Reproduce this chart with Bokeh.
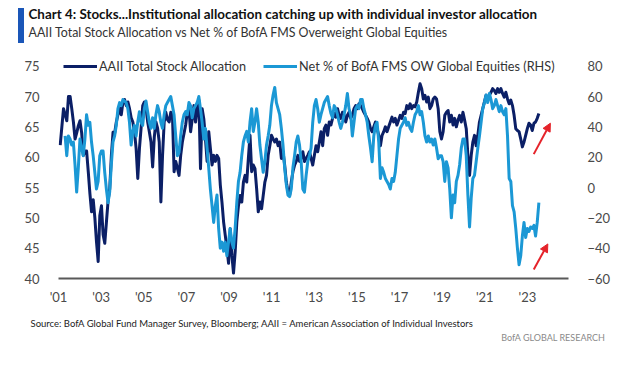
import numpy as np
from bokeh.plotting import figure
from bokeh.layouts import column
from bokeh.models import (Range1d, LinearAxis, FixedTicker, Legend, LegendItem,
                          Arrow, NormalHead, Title, Div)
from bokeh.embed import file_html
from bokeh.resources import INLINE

# ---------------- data ----------------
aaii_start, aaii_end = 2001.08, 2023.54
aaii_2001_2006 = [62, 65, 68, 67, 66, 70, 70, 68, 65.8, 63, 64, 65.2, 66, 64, 60.3, 61, 61, 57.6,
                  54, 51, 53, 50, 46, 42.8, 50.4, 52, 47.2, 45.8, 49.3, 52.8, 54.8, 60.3, 64.1, 64,
                  65.8, 67, 68.1, 67, 69.1, 69.5, 68.5, 69.1, 68, 66.5, 65.8, 64.2, 61.4, 56.5, 61.4,
                  64.8, 68.5, 69.1, 68, 65.8, 64.2, 62.5, 58.4, 63.3, 65.8, 64.8, 62.5, 52.6, 60.3,
                  65.8, 67.4, 66.2, 65.8, 67.4, 67, 57.6, 59.3, 58.2, 57.0, 60.3, 62.5]
aaii_2006_2012 = [63.9, 65.3, 67.4, 68, 64.2, 66.3, 68.5, 65.8, 68, 69.4,
                  58.1, 68, 66.3, 63, 59.3, 64.2, 61.4, 58.7, 60.3, 59.3,
                  60.3, 59.8, 55.4, 52.6, 49.3, 47.1, 45.0, 42.5, 48.2, 43.8,
                  40.9, 44.4, 49.3, 52, 53.7, 52.6, 55.9, 57, 55.9, 59.8,
                  63.6, 57.6, 58.7, 58.1, 54.8, 51.0, 52.6, 51.5, 53.7, 55.9,
                  57, 60.3, 61.9, 63.6, 63, 62.5, 63, 61.9, 62.5, 59.8,
                  60.9, 58.7, 55.9, 54.3, 53.7, 55.9, 57.6, 58.7, 59.3, 60.3,
                  59.3, 59.8, 60.9, 59.3, 59.8, 60.3, 60.9, 59.8]
aaii_2012_2018 = [58.7, 60.3, 61.9, 60.9, 62.5, 64.2, 61.9, 64.7, 65.3, 63.6,
                  65.8, 65.3, 66.4, 67.2, 66.6, 68, 66.9, 66.4, 67.4, 66.9,
                  65.8, 66.9, 67.4, 66.4, 66.9, 68, 68.5, 68, 68.8, 68.5,
                  68, 67.4, 66.9, 66.4, 65.8, 64.7, 64.2, 65, 65.8, 64.7,
                  63.6, 61.9, 63.6, 64.2, 65, 64.2, 65, 65.8, 66.6, 65.8,
                  66.4, 65.3, 66.1, 66.9, 66.4, 67.4, 67.2, 68.5, 68, 68.8,
                  68, 68.5, 68.3, 69.1, 70.7, 72.1, 71.3, 69.6, 70.2, 69.1,
                  69.9, 68, 68.5, 69.6, 69.9, 69.6, 68, 64.2]
aaii_2018_2023 = [63, 64.2, 66.9, 67.4, 67.7, 65.8, 66.9, 65.3, 66.4, 65,
                  66.1, 66.9, 65.8, 67.4, 66.1, 64.7, 60.3, 57.0, 60.3, 62.5,
                  63.6, 61.9, 63.6, 65.8, 66.9, 68, 69.1, 70.2, 69.6, 70.2,
                  70.7, 71.3, 71, 70.5, 71.3, 70.7, 71.3, 70.5, 69.9, 70.7,
                  69.6, 68.8, 69.4, 68.5, 66.9, 64.7, 64.4, 64.2, 63, 61.7,
                  62.5, 63.6, 64.7, 65.6, 65.3, 64.4, 65.6, 65.8, 66.4, 67.2]

fms_start, fms_end = 2001.31, 2023.54
fms_2001_2006 = [34, 21, 34, 32, 28, 30, 15, -3, 13, 32,
                 26, 21, 32, 48, 41, 43, 30, 21, 10, -1,
                 4, 21, 24, 24, 10, -1, -10, -3, 15, 30,
                 34, 41, 52, 56, 54, 58, 57, 56, 52, 43,
                 28, 37, 41, 34, 43, 50, 43, 41, 52, 57,
                 50, 43, 39, 46, 39, 48, 54, 50, 43, 39,
                 48, 54, 56, 58, 60, 54, 48, 34, 21, 23,
                 34, 43]
fms_2006_2012 = [48, 50, 48, 56, 54, 46, 52, 54, 56, 60,
                 52, 43, 32, 39, 26, 13, -1, -12, -23, -12,
                 -5, -27, -40, -36, -42, -36, -45, -36, -27, -36,
                 -40, -27, -10, 4, 10, 21, 30, 34, 37, 30,
                 43, 52, 37, 43, 52, 43, 28, 19, 10, 17,
                 28, 34, 41, 54, 61, 66, 56, 52, 48, 39,
                 28, 13, 2, -5, -6, -1, 13, 21, 30, 34,
                 28, 17, -1, -3, 8, 17, 21, 26]
fms_2012_2018 = [43, 54, 58, 52, 43, 48, 52, 56, 58, 60,
                 54, 49, 46, 54, 52, 48, 43, 39, 43, 48,
                 54, 62, 52, 48, 34, 43, 52, 54, 52, 58,
                 58, 52, 48, 43, 34, 26, 17, 34, 41, 43,
                 30, 6, 13, 10, 6, 4, 2, -1, 6, 4,
                 10, 21, 32, 39, 41, 43, 46, 41, 43, 39,
                 37, 43, 48, 50, 54, 48, 50, 43, 34, 30,
                 34, 30, 32, 28, 32, 26, 19, 21]
fms_2018_2023 = [21, 17, 4, 17, 13, -1, -20, -5, -10, 4,
                 8, 15, 26, 32, 32, 21, -5, -26, -7, 6,
                 8, 17, 26, 34, 43, 52, 56, 61, 56, 62,
                 58, 52, 54, 58, 54, 50, 54, 50, 48, 52,
                 34, 6, 4, -12, -16, -27, -40, -51, -45, -32,
                 -23, -33, -27, -29, -26, -27, -25, -32, -23, -10]

year_ticks = [2001, 2003, 2005, 2007, 2009, 2011, 2013, 2015, 2017, 2019, 2021, 2023]
year_labels = ["'01", "'03", "'05", "'07", "'09", "'11", "'13", "'15", "'17", "'19", "'21", "'23"]
left_ticks = [40, 45, 50, 55, 60, 65, 70, 75]
right_ticks = [-60, -40, -20, 0, 20, 40, 60, 80]

title_text = "Chart 4: Stocks...Institutional allocation catching up with individual investor allocation"
subtitle_text = "AAII Total Stock Allocation vs Net % of BofA FMS Overweight Global Equities"
legend_labels = ["AAII Total Stock Allocation", "Net % of BofA FMS OW Global Equities (RHS)"]
source_text = "Source: BofA Global Fund Manager Survey, Bloomberg; AAII = American Association of Individual Investors"
brand_text = "BofA GLOBAL RESEARCH"

aaii = aaii_2001_2006 + aaii_2006_2012 + aaii_2012_2018 + aaii_2018_2023
fms = fms_2001_2006 + fms_2006_2012 + fms_2012_2018 + fms_2018_2023
aaii_x = np.linspace(aaii_start, aaii_end, len(aaii))
fms_x = np.linspace(fms_start, fms_end, len(fms))

DARK = "#0B1F66"
LIGHT = "#1B98D5"
RED = "#E5232A"
FONT = "Lato"
TICK_COLOR = "#4a4a4a"
W = 613

# ---------------- main chart ----------------
p = figure(width=W, height=310, output_backend="svg", toolbar_location=None,
           x_range=Range1d(2001.0, 2024.93), y_range=Range1d(40, 79.07),
           min_border_left=58, min_border_right=40, min_border_top=41, min_border_bottom=32,
           title=None)
p.outline_line_color = None
p.grid.grid_line_color = None
p.extra_y_ranges = {"right": Range1d(-60, 96.28)}

r_aaii = p.line(aaii_x, aaii, line_color=DARK, line_width=3, line_join="round")
r_fms = p.line(fms_x, fms, line_color=LIGHT, line_width=3, line_join="round", y_range_name="right")

xa = p.xaxis[0]
xa.ticker = FixedTicker(ticks=year_ticks)
xa.major_label_overrides = {t: l for t, l in zip(year_ticks, year_labels)}
xa.axis_line_color = "#595959"
xa.axis_line_width = 2
xa.major_tick_line_color = None
xa.minor_tick_line_color = None
xa.major_label_standoff = 4
xa.major_label_text_font = FONT
xa.major_label_text_font_size = "13px"
xa.major_label_text_color = TICK_COLOR

ya = p.yaxis[0]
ya.ticker = FixedTicker(ticks=left_ticks)
ya.axis_line_color = None
ya.major_tick_line_color = None
ya.minor_tick_line_color = None
ya.major_label_standoff = 13
ya.major_label_text_font = FONT
ya.major_label_text_font_size = "13px"
ya.major_label_text_color = TICK_COLOR

ra = LinearAxis(y_range_name="right", ticker=FixedTicker(ticks=right_ticks))
ra.axis_line_color = None
ra.major_tick_line_color = None
ra.minor_tick_line_color = None
ra.major_label_standoff = 13
ra.major_label_text_font = FONT
ra.major_label_text_font_size = "13px"
ra.major_label_text_color = TICK_COLOR
p.add_layout(ra, "right")

legend = Legend(items=[LegendItem(label=legend_labels[0], renderers=[r_aaii]),
                       LegendItem(label=legend_labels[1], renderers=[r_fms])],
                orientation="horizontal", location=(5, 202), padding=0, margin=0, spacing=17,
                glyph_width=34, glyph_height=20, label_standoff=2,
                label_text_font=FONT, label_text_font_size="12.7px", label_text_color="#333333",
                background_fill_alpha=0, border_line_alpha=0)
p.add_layout(legend)

arrow_up = dict(x0=2023.30, y0=60.5, x1=2024.08, y1=65.6)
arrow_lo = dict(x0=2023.30, y0=41.5, x1=2023.96, y1=45.7)
for a in (arrow_up, arrow_lo):
    p.add_layout(Arrow(end=NormalHead(size=8, fill_color=RED, line_color=RED),
                       x_start=a["x0"], y_start=a["y0"], x_end=a["x1"], y_end=a["y1"],
                       line_color=RED, line_width=2))

# titles above the frame (first added sits closest to the frame)
p.add_layout(Title(text=subtitle_text, align="left", offset=-30, standoff=1,
                   vertical_align="middle", text_font=FONT, text_font_size="12.4px",
                   text_font_style="normal", text_color="#333333"), "above")
p.add_layout(Title(text=title_text, align="left", offset=-30, standoff=0.5,
                   vertical_align="middle", text_font=FONT, text_font_size="13.4px",
                   text_font_style="bold", text_color="#111111"), "above")

# ---------------- footer strip ----------------
foot = figure(width=W, height=36, output_backend="svg", toolbar_location=None,
              x_range=Range1d(0, 1), y_range=Range1d(0, 1),
              x_axis_location=None, y_axis_location=None,
              min_border_left=58, min_border_right=40, min_border_top=34, min_border_bottom=0)
foot.outline_line_color = None
foot.grid.visible = False
foot.add_layout(Title(text=brand_text, align="right", offset=-37, standoff=1.2,
                      vertical_align="middle", text_font=FONT, text_font_size="9px",
                      text_font_style="normal", text_color="#8a8a8a"), "above")
foot.add_layout(Title(text=source_text, align="left", offset=-28, standoff=1.2,
                      vertical_align="middle", text_font=FONT, text_font_size="9.5px",
                      text_font_style="normal", text_color="#222222"), "above")

# accent bar next to the title
bar = Div(text="", width=6, height=35,
          styles={"position": "absolute", "left": "13px", "top": "3px",
                  "background-color": "#1A56B8"})

layout = column(p, foot, bar, spacing=0)
open("out.html", "w").write(file_html(layout, INLINE))
